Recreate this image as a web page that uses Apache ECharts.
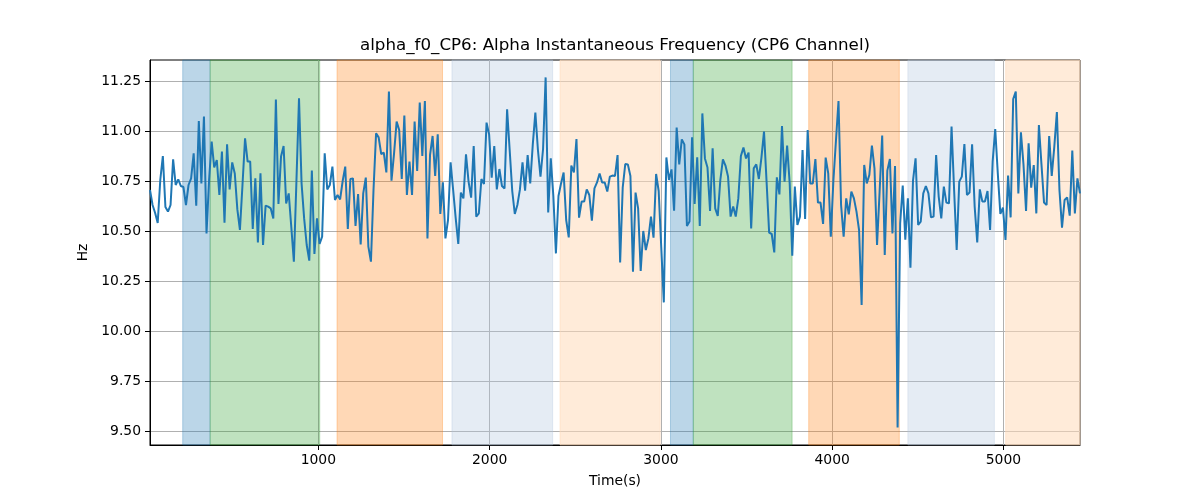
<!DOCTYPE html>
<html><head><meta charset="utf-8">
<script src="https://cdn.jsdelivr.net/npm/echarts@6/dist/echarts.min.js"></script>
<style>html,body{margin:0;padding:0;background:#fff}#c{width:1200px;height:500px}</style>
</head><body><div id="c"></div>
<script>
const chartTitle = 'alpha_f0_CP6: Alpha Instantaneous Frequency (CP6 Channel)';
const startTime = 17;
const sampleStep = 15;
const freqValues = [
10.705,10.63,10.59,10.54,10.755,10.875,10.62,10.597,10.63,10.858,
10.73,10.758,10.725,10.72,10.63,10.73,10.763,10.888,10.627,11.05,
10.738,11.072,10.488,10.755,10.947,10.818,10.855,10.68,10.897,10.542,
10.933,10.708,10.843,10.788,10.608,10.505,10.73,10.963,10.847,10.847,
10.51,10.763,10.443,10.788,10.43,10.627,10.622,10.613,10.563,11.158,
10.635,10.872,10.925,10.638,10.688,10.52,10.347,10.75,11.163,10.738,
10.563,10.43,10.352,10.802,10.385,10.563,10.435,10.472,10.888,10.708,
10.73,10.822,10.655,10.68,10.658,10.75,10.822,10.51,10.76,10.763,
10.525,10.685,10.433,10.688,10.767,10.422,10.347,10.705,10.988,10.968,
10.885,10.892,10.793,11.197,10.752,10.888,11.047,11.005,10.76,11.077,
10.68,10.847,10.68,11.047,10.8,11.142,10.875,11.15,10.463,10.88,
10.975,10.775,10.983,10.585,10.743,10.463,10.555,10.843,10.705,10.563,
10.435,10.692,10.663,10.883,10.747,10.667,10.925,10.572,10.588,10.76,
10.735,11.042,10.983,10.767,10.925,10.708,10.81,10.725,10.713,11.108,
10.905,10.7,10.585,10.63,10.708,10.843,10.702,10.88,10.738,10.933,
11.092,10.905,10.772,10.91,11.268,10.593,10.863,10.675,10.388,10.675,
10.738,10.792,10.555,10.468,10.827,10.793,10.96,10.567,10.647,10.647,
10.708,10.68,10.552,10.713,10.743,10.788,10.743,10.742,10.697,10.772,
10.777,10.775,10.88,10.343,10.717,10.835,10.833,10.775,10.297,10.692,
10.613,10.3,10.5,10.405,10.463,10.572,10.467,10.785,10.7,10.42,
10.143,10.868,10.755,10.808,10.602,11.017,10.833,10.958,10.933,10.525,
10.547,10.968,10.635,10.868,10.525,11.088,10.863,10.817,10.6,10.913,
10.613,10.575,10.755,10.858,10.827,10.772,10.572,10.622,10.572,10.663,
10.875,10.917,10.863,10.892,10.513,10.813,10.833,10.76,10.867,10.997,
10.747,10.492,10.485,10.393,10.768,10.683,11.025,10.747,10.927,10.738,
10.377,10.722,10.53,10.572,10.905,10.56,11.005,10.738,10.738,10.86,
10.642,10.642,10.535,10.867,10.788,10.472,10.75,10.95,11.15,10.63,
10.472,10.663,10.583,10.697,10.663,10.597,10.505,10.13,10.83,10.738,
10.78,10.927,10.813,10.43,10.697,10.977,10.38,10.802,10.86,10.488,
10.825,9.517,10.538,10.727,10.457,10.663,10.317,10.752,10.863,10.53,
10.547,10.688,10.725,10.688,10.568,10.572,10.88,10.672,10.563,10.722,
10.642,10.638,11.022,10.705,10.405,10.747,10.772,10.935,10.68,10.692,
10.933,10.622,10.443,10.708,10.647,10.647,10.7,10.505,10.847,11.01,
10.788,10.585,10.617,10.455,10.777,10.568,11.16,11.197,10.688,10.993,
10.833,10.6,10.938,10.717,10.83,10.588,11.03,10.833,10.642,10.63,
10.975,10.775,10.922,11.095,10.705,10.517,10.655,10.668,10.577,10.902,
10.588,10.763,10.688
];
const spanStarts = [208, 368, 1109, 1780, 2411, 3056, 3189, 3863, 4442, 5013];
const spanEnds   = [368, 1008, 1725, 2368, 2996, 3189, 3766, 4392, 4947, 5460];
const spanKinds  = ['blue','green','orange','lightblue','peach','blue','green','orange','lightblue','peach'];
const xTickValues = [1000, 2000, 3000, 4000, 5000];
const yTickValues = [9.5, 9.75, 10.0, 10.25, 10.5, 10.75, 11.0, 11.25];

const spanColors = {
  blue: 'rgba(31,119,180,0.3)',
  green: 'rgba(44,160,44,0.3)',
  orange: 'rgba(255,127,14,0.3)',
  lightblue: 'rgba(176,196,222,0.33)',
  peach: 'rgba(255,218,185,0.55)'
};

const times = freqValues.map((v, i) => startTime + i * sampleStep);
const lineData = freqValues.map((v, i) => [times[i], v]);
const xMin = times[0], xMax = times[times.length - 1];

const areas = spanStarts.map((s, i) => [
  { xAxis: s, itemStyle: { color: spanColors[spanKinds[i]], borderColor: spanColors[spanKinds[i]], borderWidth: 1 } },
  { xAxis: Math.min(spanEnds[i], xMax) }
]);

const font = 'DejaVu Sans';
const chart = echarts.init(document.getElementById('c'), null, { renderer: 'canvas' });
chart.setOption({
  animation: false,
  backgroundColor: '#fff',
  grid: { left: 150, right: 120, top: 60, bottom: 55, show: true, borderColor: '#000', borderWidth: 1, backgroundColor: 'transparent' },
  graphic: [{
    type: 'text', x: 615, y: 46,
    style: { text: chartTitle, fill: '#000', font: '16.7px "DejaVu Sans"', textAlign: 'center', textVerticalAlign: 'middle' }
  }],
  xAxis: {
    type: 'value', min: xMin, max: xMax,
    name: 'Time(s)', nameLocation: 'middle', nameGap: 29,
    nameTextStyle: { color: '#000', fontSize: 13.9, fontFamily: font },
    axisLine: { show: true, lineStyle: { color: '#000', width: 1 } },
    axisTick: { show: true, customValues: xTickValues, length: 5, lineStyle: { color: '#000' } },
    axisLabel: { customValues: xTickValues, color: '#000', fontSize: 13.9, fontFamily: font, margin: 8,
      formatter: v => String(Math.round(v)) },
    splitLine: { show: true, lineStyle: { color: '#b0b0b0', width: 1 } }
  },
  yAxis: {
    type: 'value', min: 9.43, max: 11.355,
    name: 'Hz', nameLocation: 'middle', nameGap: 55, nameRotate: 90,
    nameTextStyle: { color: '#000', fontSize: 13.9, fontFamily: font },
    axisLine: { show: true, lineStyle: { color: '#000', width: 1 } },
    axisTick: { show: true, customValues: yTickValues, length: 5, lineStyle: { color: '#000' } },
    axisLabel: { customValues: yTickValues, color: '#000', fontSize: 13.9, fontFamily: font, margin: 9,
      formatter: v => Number(v).toFixed(2) },
    splitLine: { show: true, lineStyle: { color: '#b0b0b0', width: 1 } }
  },
  series: [{
    type: 'line', data: lineData, showSymbol: false, symbol: 'none',
    lineStyle: { color: '#1f77b4', width: 2 }, clip: true, z: 3,
    markArea: { silent: true, data: areas }
  }]
});
</script></body></html>
